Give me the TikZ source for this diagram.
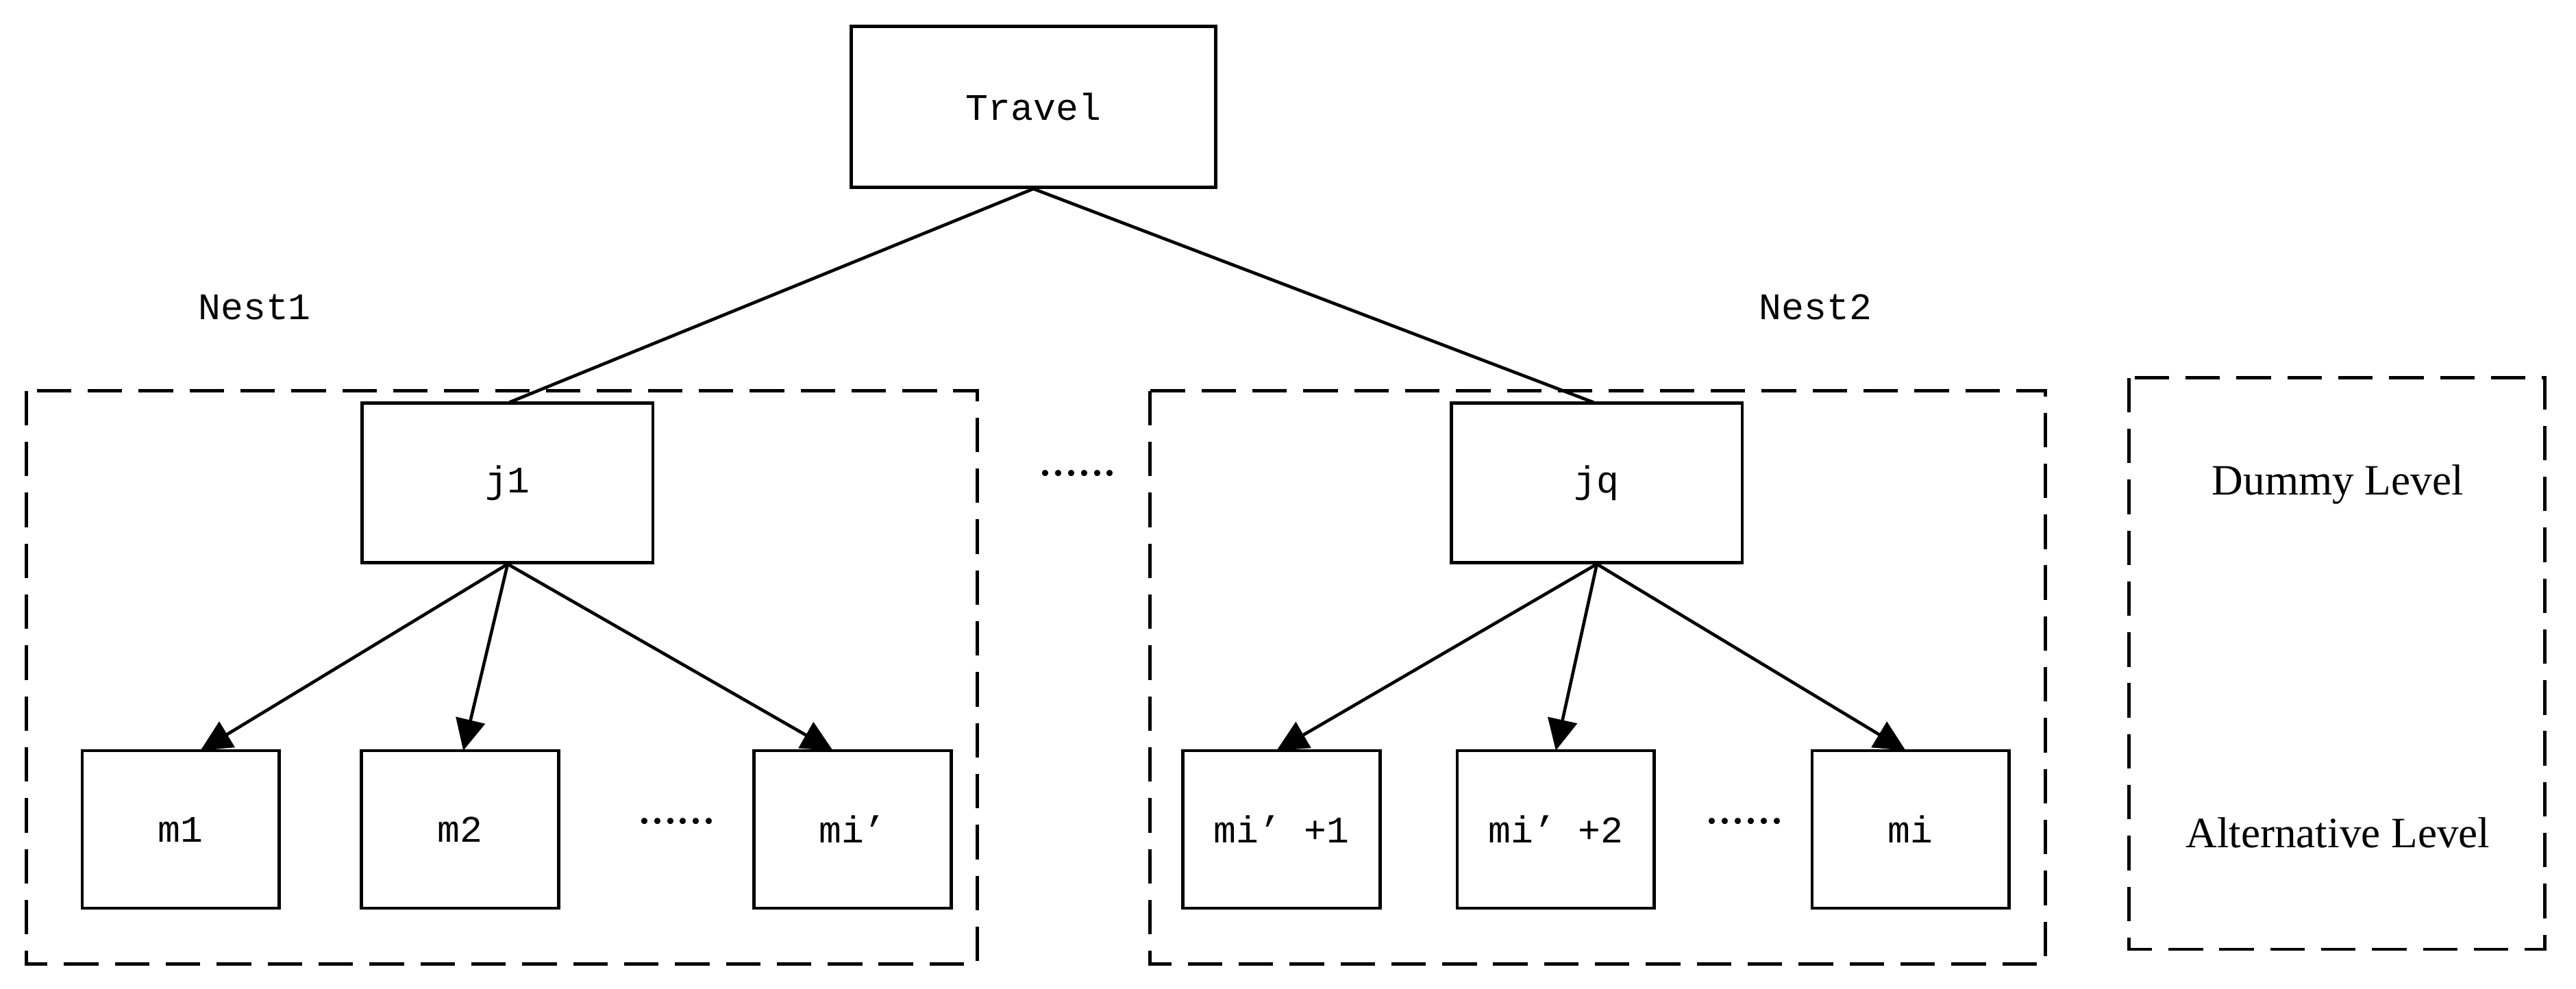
\documentclass[tikz,border=0pt]{standalone}
\usepackage{fontspec}
\setmainfont{Liberation Serif}
\newfontfamily\mono{Liberation Mono}
\usetikzlibrary{arrows.meta}
\begin{document}
\begin{tikzpicture}[x=0.02cm,y=-0.02cm,
  box/.style={draw,line width=1.1pt,inner sep=0pt,font=\mono\fontsize{13}{15}\selectfont},
  dbox/.style={draw,line width=1.1pt,dash pattern=on 0.42cm off 0.2cm},
  ln/.style={line width=1.1pt},
  ar/.style={line width=1.1pt,-{Triangle[length=0.38cm,width=0.36cm]}},
  lab/.style={font=\mono\fontsize{13}{15}\selectfont},
  dots/.style={font=\fontsize{18}{20}\selectfont},
  lvl/.style={font=\fontsize{15}{17}\selectfont}]
\useasboundingbox (0,0) rectangle (1568,602);
\draw[dbox] (16,238) rectangle (595,587);
\draw[dbox] (700,238) rectangle (1245,587);
\draw[dbox] (1296,230) rectangle (1549,578);
\node[box,minimum width=4.44cm,minimum height=1.96cm] (tr) at (629,65) {Travel};
\node[box,minimum width=3.54cm,minimum height=1.94cm] (j1) at (309,294) {j1};
\node[box,minimum width=3.54cm,minimum height=1.94cm] (jq) at (972,294) {jq};
\foreach \n/\x/\t in {m1/110/m1,m2/280/m2,mp/519/mi’,mq/780/mi’ +1,mr/947/mi’ +2,mi/1163/mi}
  \node[box,minimum width=2.4cm,minimum height=1.92cm] (\n) at (\x,505) {\t};
\coordinate (jt) at (310,245); \coordinate (qt) at (970,245);
\draw[ln] (tr.south) -- (jt);
\draw[ln] (tr.south) -- (qt);
\coordinate (a1) at (122,457); \coordinate (a2) at (282,457); \coordinate (a3) at (507,457);
\coordinate (b1) at (777,457); \coordinate (b2) at (947,457); \coordinate (b3) at (1160,457);
\draw[ar] (j1.south) -- (a1);
\draw[ar] (j1.south) -- (a2);
\draw[ar] (j1.south) -- (a3);
\draw[ar] (jq.south) -- (b1);
\draw[ar] (jq.south) -- (b2);
\draw[ar] (jq.south) -- (b3);
\node[lab] (n1) at (155,187) {Nest1};
\node[lab] (n2) at (1105,187) {Nest2};
\node[dots] (d0) at (656,288) {......};
\node[dots] (d1) at (412,500) {......};
\node[dots] (d2) at (1062,500) {......};
\node[lvl] (dl) at (1423,295) {Dummy Level};
\node[lvl] (al) at (1423,507) {Alternative Level};
\end{tikzpicture}
\end{document}
